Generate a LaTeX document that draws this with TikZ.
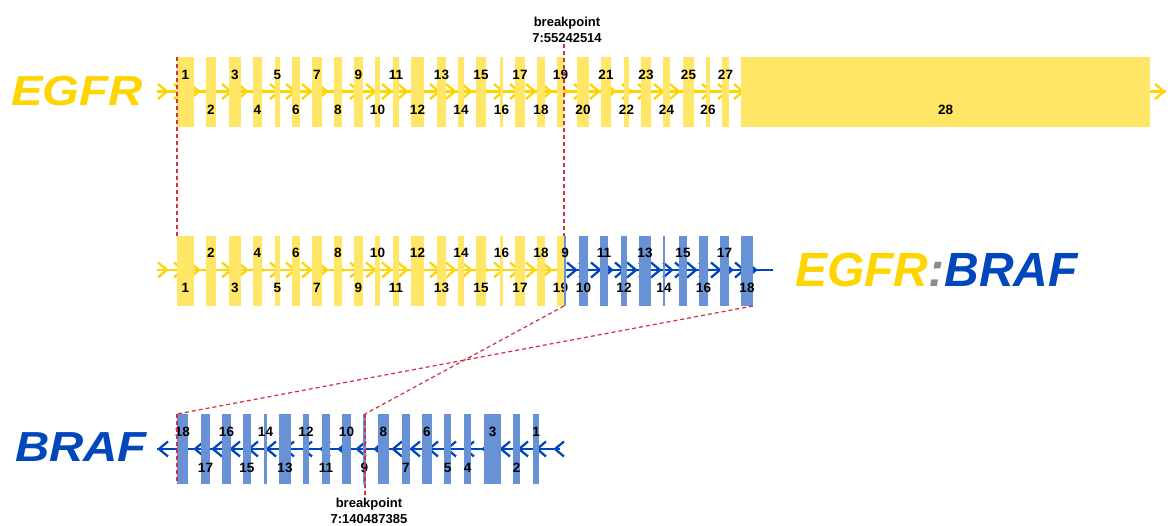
\documentclass[tikz,border=0pt]{standalone}
\usepackage{fontspec}
\setmainfont{Liberation Sans}
\newfontfamily\genefont[FakeStretch=1.13]{Liberation Sans}
\definecolor{exY}{HTML}{FFE666}
\definecolor{lnY}{HTML}{FFD500}
\definecolor{exB}{HTML}{6891D6}
\definecolor{lnB}{HTML}{0047BB}
\definecolor{dashR}{HTML}{D42E44}
\definecolor{colG}{HTML}{8A8A8A}
\tikzset{
  exonY/.style={fill=exY, draw=none, inner sep=0pt, outer sep=0pt},
  exonB/.style={fill=exB, draw=none, inner sep=0pt, outer sep=0pt},
  num/.style={font=\fontsize{13.5}{13.5}\selectfont\bfseries, inner sep=0pt, text=black},
  bplabel/.style={font=\fontsize{13}{16}\selectfont\bfseries, align=center, inner sep=0pt},
  genelab/.style={font=\genefont\fontsize{42}{42}\selectfont\bfseries\itshape, inner sep=0pt, anchor=west},
  axisY/.style={draw=lnY, line width=2.4pt},
  axisB/.style={draw=lnB, line width=2.4pt},
  chev/.style={line width=2.3pt, line cap=butt, line join=miter},
  bpline/.style={draw=dashR, line width=1.2pt, dash pattern=on 4pt off 3pt}
}
\begin{document}
\begin{tikzpicture}[x=1pt,y=-1pt]
\useasboundingbox (0,0) rectangle (1168,526);
\fill[white] (0,0) rectangle (1168,526);

% ---------- axes with chevrons (behind exons) ----------
% top EGFR
\coordinate (tA) at (157,91.5);
\coordinate (tB) at (1166,91.5);
\draw[axisY] (tA) -- (tB);
\foreach \x in {167,183,...,743} {\draw[chev,lnY] (\x-9,91.5-7.5) -- (\x,91.5) -- (\x-9,91.5+7.5);}
\draw[chev,lnY] (1164-9,91.5-7.5) -- (1164,91.5) -- (1164-9,91.5+7.5);

% middle fusion
\coordinate (mA) at (157,270);
\coordinate (mJ) at (564,270);
\coordinate (mB) at (773,270);
\draw[axisY] (mA) -- (mJ);
\draw[axisB] (mJ) -- (mB);
\foreach \x in {167,183,...,563} {\draw[chev,lnY] (\x-9,270-7.5) -- (\x,270) -- (\x-9,270+7.5);}
\foreach \x in {576,588,...,764} {\draw[chev,lnB] (\x-9,270-7.5) -- (\x,270) -- (\x-9,270+7.5);}

% bottom BRAF
\coordinate (bA) at (157,449);
\coordinate (bB) at (560,449);
\draw[axisB] (bA) -- (bB);
\foreach \x in {159,177,...,555} {\draw[chev,lnB] (\x+9,449-7.5) -- (\x,449) -- (\x+9,449+7.5);}

% ---------- EGFR exons ----------
\foreach \n/\a/\b/\ly in {1/177/194/75,2/206/216/110,3/229/241/75,4/253/262/110,5/275/280/75,6/292/300/110,7/312/322/75,8/334/342/110,9/354/363/75,10/375/380/110,11/393/399/75,12/411/424/110,13/437/446/75,14/458/464/110,15/476/486/75,16/500/503/110,17/515/525/75,18/537/545/110,19/557/564/75,20/577/589/110,21/601/611/75,22/624/629/110,23/641/651/75,24/663/670/110,25/683/694/75,26/706/710/110,27/722/729/75,28/741/1150/110}{
  \pgfmathsetmacro\w{\b-\a}
  \pgfmathsetmacro\c{(\a+\b)/2}
  \node[exonY, minimum width=\w pt, minimum height=70pt] (t\n) at (\c,92) {};
}
\foreach \n/\a/\b/\ly in {1/177/194/75,2/206/216/110,3/229/241/75,4/253/262/110,5/275/280/75,6/292/300/110,7/312/322/75,8/334/342/110,9/354/363/75,10/375/380/110,11/393/399/75,12/411/424/110,13/437/446/75,14/458/464/110,15/476/486/75,16/500/503/110,17/515/525/75,18/537/545/110,19/557/564/75,20/577/589/110,21/601/611/75,22/624/629/110,23/641/651/75,24/663/670/110,25/683/694/75,26/706/710/110,27/722/729/75,28/741/1150/110}{
  \pgfmathsetmacro\c{(\a+\b)/2}
  \node[num] (tl\n) at (\c,\ly) {\n};
}

% ---------- fusion exons ----------
\foreach \n/\a/\b/\ly in {1/177/194/288,2/206/216/253,3/229/241/288,4/253/262/253,5/275/280/288,6/292/300/253,7/312/322/288,8/334/342/253,9/354/363/288,10/375/380/253,11/393/399/288,12/411/424/253,13/437/446/288,14/458/464/253,15/476/486/288,16/500/503/253,17/515/525/288,18/537/545/253,19/557/564/288}{
  \pgfmathsetmacro\w{\b-\a}
  \pgfmathsetmacro\c{(\a+\b)/2}
  \node[exonY, minimum width=\w pt, minimum height=70pt] (m\n) at (\c,271) {};
  \node[num] (ml\n) at (\c,\ly) {\n};
}
\foreach \n/\a/\b/\ly in {9/564/566/253,10/579/588/288,11/600/608/253,12/621/627/288,13/639/651/253,14/663/665/288,15/679/687/253,16/699/708/288,17/720/729/253,18/741/753/288}{
  \pgfmathsetmacro\w{\b-\a}
  \pgfmathsetmacro\c{(\a+\b)/2}
  \node[exonB, minimum width=\w pt, minimum height=70pt] (f\n) at (\c,271) {};
  \node[num] (fl\n) at (\c,\ly) {\n};
}

% ---------- BRAF exons ----------
\foreach \n/\a/\b/\ly in {18/177/188/432,17/201/210/468,16/222/231/432,15/243/251/468,14/264/267/432,13/279/291/468,12/303/309/432,11/322/330/468,10/342/351/432,9/363/366/468,8/378/389/432,7/402/410/468,6/422/432/432,5/444/451/468,4/464/471/468,3/484/501/432,2/513/520/468,1/533/539/432}{
  \pgfmathsetmacro\w{\b-\a}
  \pgfmathsetmacro\c{(\a+\b)/2}
  \node[exonB, minimum width=\w pt, minimum height=70pt] (b\n) at (\c,449) {};
  \node[num] (bl\n) at (\c,\ly) {\n};
}

% ---------- gene labels ----------
\node[genelab, text=lnY] (gE) at (11,91) {EGFR};
\node[genelab, font=\fontsize{48}{48}\selectfont\bfseries\itshape] (gF) at (795,270) {\textcolor{lnY}{EGFR}\textcolor{colG}{:}\textcolor{lnB}{BRAF}};
\node[genelab, text=lnB] (gB) at (15,447) {BRAF};

% ---------- breakpoints ----------
\node[bplabel] (bp1) at (567,30) {breakpoint\\7:55242514};
\node[bplabel] (bp2) at (369,511) {breakpoint\\7:140487385};
\coordinate (bp1e) at (564,44);
\coordinate (bp2e) at (365,497);
\coordinate (b9t) at (365,414);

\draw[bpline] (t1.north west) -- (m1.north west);
\draw[bpline] (bp1e) -- (m19.north east);
\draw[bpline] (m19.south east) -- (b9t);
\draw[bpline] (b9t) -- (bp2e);
\draw[bpline] (f18.south east) -- (b18.north west);
\draw[bpline] (b18.north west) -- (b18.south west);
\end{tikzpicture}
\end{document}
